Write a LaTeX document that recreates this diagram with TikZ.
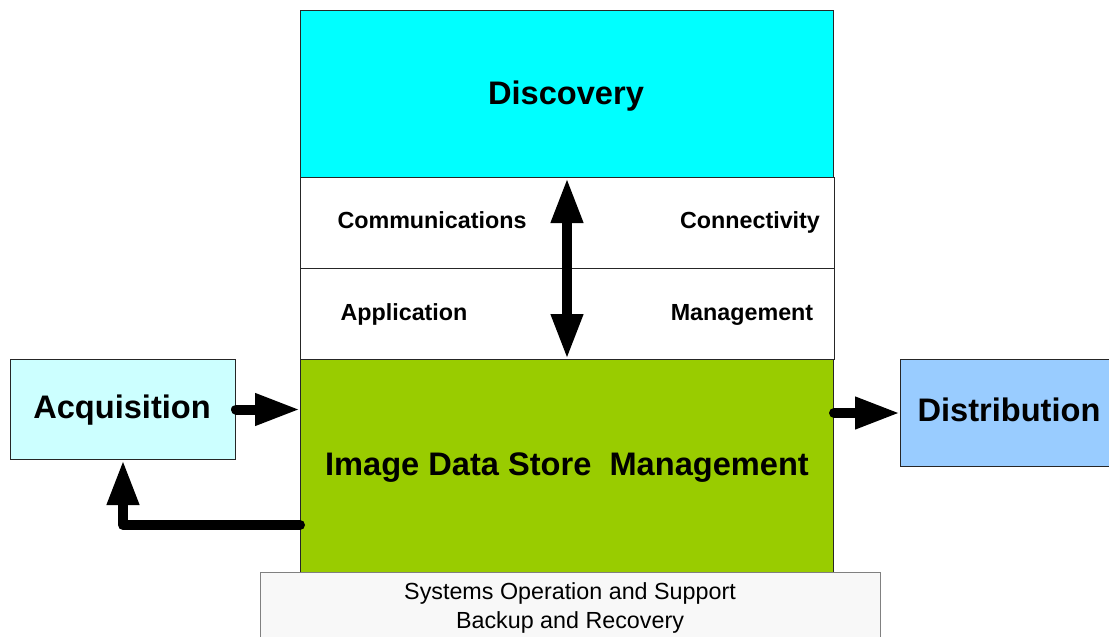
\documentclass[tikz,border=0pt]{standalone}
\usepackage{fontspec}
\setmainfont{Liberation Sans}
\usetikzlibrary{arrows.meta}
\definecolor{disccol}{HTML}{00FFFF}
\definecolor{idsmcol}{HTML}{99CC00}
\definecolor{acqcol}{HTML}{CCFFFF}
\definecolor{distcol}{HTML}{99CCFF}
\definecolor{syscol}{HTML}{F8F8F8}
\definecolor{sysborder}{HTML}{808080}
\tikzset{
  box/.style={draw=black!85, line width=1pt, inner sep=0pt, anchor=north west, rectangle},
  bigtxt/.style={font=\bfseries\fontsize{32.6}{39}\selectfont, inner sep=0pt, anchor=base},
  midtxt/.style={font=\bfseries\fontsize{23.3}{28}\selectfont, inner sep=0pt, anchor=base},
  smalltxt/.style={font=\fontsize{23.3}{28}\selectfont, inner sep=0pt, anchor=base},
  arrowline/.style={line width=10pt, line cap=round, line join=round, -{Triangle[length=45pt,width=30pt]}},
  dblarrow/.style={line width=10pt, {Triangle[length=45pt,width=30pt]}-{Triangle[length=45pt,width=30pt]}}
}
\begin{document}
\begin{tikzpicture}[x=1pt,y=-1pt]
\clip (0,0) rectangle (1109,637);
\fill[white] (0,0) rectangle (1109,637);
% boxes
\node[box, fill=disccol, minimum width=533pt, minimum height=167pt] (disc) at (300,10) {};
\node[box, fill=white, minimum width=534pt, minimum height=91pt] (comm) at (300,177) {};
\node[box, fill=white, minimum width=534pt, minimum height=91pt] (app) at (300,268) {};
\node[box, fill=idsmcol, minimum width=533pt, minimum height=213pt] (idsm) at (300,359) {};
\node[box, draw=sysborder, fill=syscol, minimum width=620pt, minimum height=90pt] (sys) at (260,572) {};
\node[box, fill=acqcol, minimum width=225pt, minimum height=100pt] (acq) at (10,359) {};
\node[box, fill=distcol, minimum width=218pt, minimum height=107pt] (dist) at (900,359) {};
% texts
\node[bigtxt] (disct) at (566,104.3) {Discovery};
\node[bigtxt] (idsmt) at (567,475) {Image Data Store\ \ Management};
\node[bigtxt] (acqt) at (122,418.3) {Acquisition};
\node[bigtxt] (distt) at (1009,421.7) {Distribution};
\node[midtxt] (commt) at (432,228.3) {Communications};
\node[midtxt] (connt) at (750,228.3) {Connectivity};
\node[midtxt] (appt) at (404,320) {Application};
\node[midtxt] (mgmtt) at (742,320) {Management};
\node[smalltxt] (sys1) at (570,599.5) {Systems Operation and Support};
\node[smalltxt] (sys2) at (570,628.5) {Backup and Recovery};
% connectors
\coordinate (ret) at (300,525);
\draw[dblarrow] (disc.south) -- (idsm.north);
\draw[arrowline] (acq.east) -- (acq.east -| idsm.west);
\draw[arrowline] (dist.west -| idsm.east) -- (dist.west);
\draw[arrowline] (ret) -| (acq.south);
\end{tikzpicture}
\end{document}
